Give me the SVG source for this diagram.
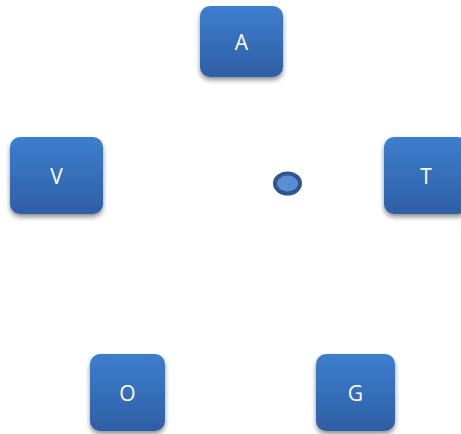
<svg xmlns="http://www.w3.org/2000/svg" width="461" height="434" viewBox="0 0 461 434">
<defs>
<linearGradient id="g" x1="0" y1="0" x2="0" y2="1">
<stop offset="0" stop-color="#3e7ece"/>
<stop offset="1" stop-color="#2e5fa5"/>
</linearGradient>
<filter id="sh" x="-20%" y="-20%" width="140%" height="150%">
<feGaussianBlur in="SourceAlpha" stdDeviation="2.5"/>
<feOffset dx="0" dy="3" result="b"/>
<feComponentTransfer><feFuncA type="linear" slope="0.45"/></feComponentTransfer>
<feMerge><feMergeNode/><feMergeNode in="SourceGraphic"/></feMerge>
</filter>
</defs>
<style>
.box{fill:url(#g);filter:url(#sh);}
.lbl{font-family:"Open Sans","Liberation Sans",sans-serif;font-size:21px;fill:#ffffff;text-anchor:middle;dominant-baseline:central;}
</style>
<rect width="461" height="434" fill="#ffffff"/>
<g id="connectors"></g>
<g id="node-A"><rect class="box" x="200" y="6" width="83" height="71" rx="10"/><text class="lbl" x="241.5" y="42">A</text></g>
<g id="node-V"><rect class="box" x="10" y="137" width="93" height="77" rx="10"/><text class="lbl" x="56.5" y="175.5">V</text></g>
<g id="node-T"><rect class="box" x="384" y="137" width="84" height="77" rx="10"/><text class="lbl" x="426" y="175.5">T</text></g>
<g id="node-O"><rect class="box" x="90" y="354" width="75" height="77" rx="10"/><text class="lbl" x="127.5" y="392.5">O</text></g>
<g id="node-G"><rect class="box" x="316" y="354" width="79" height="77" rx="10"/><text class="lbl" x="355.5" y="392.5">G</text></g>
<g id="node-center"><ellipse cx="287.5" cy="183.5" rx="12.5" ry="10" fill="#5a8ed3" stroke="#2f5592" stroke-width="4"/></g>
</svg>
